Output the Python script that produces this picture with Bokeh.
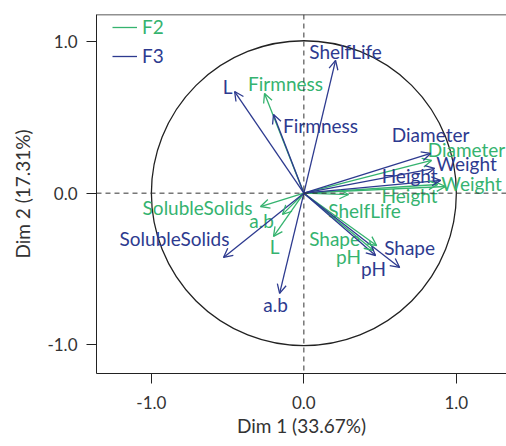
from bokeh.plotting import figure
from bokeh.models import (ColumnDataSource, Arrow, OpenHead, Span, Legend, LegendItem,
                          FixedTicker, Range1d)
from bokeh.core.properties import value
from bokeh.embed import file_html
from bokeh.resources import INLINE

# ---- data ----
variables = ["ShelfLife", "L", "Firmness", "Diameter", "Weight", "Height",
             "SolubleSolids", "a.b", "Shape", "pH"]
f3_dim1 = [0.208, -0.454, -0.199, 0.831, 0.857, 0.897, -0.527, -0.159, 0.628, 0.470]
f3_dim2 = [0.875, 0.670, 0.519, 0.262, 0.163, 0.084, -0.424, -0.661, -0.490, -0.411]
f2_dim1 = [0.293, -0.199, -0.258, 0.837, 0.929, 0.877, -0.284, -0.140, 0.477, 0.457]
f2_dim2 = [-0.009, -0.285, 0.657, 0.216, 0.044, 0.057, -0.088, -0.140, -0.345, -0.378]

tick_values = [-1.0, 0.0, 1.0]
tick_labels = ["-1.0", "0.0", "1.0"]
x_title = "Dim 1 (33.67%)"
y_title = "Dim 2 (17.31%)"
circle_radius = 1.0

# ---- layout / style ----
F2_COLOR = "#35b36f"
F3_COLOR = "#2d3a8f"
TEXT_COLOR = "#333333"
FONT = "Lato"
FS = "19px"
TICK_FS = "17px"

# label offsets in screen pixels (dx, dy; dy positive = down)
f3_dx = [10, -7, 47, 0, 32, -31, -49, -4, 10, -2]
f3_dy = [-9, -5, 11, -19, -5, -5, -19, 11, -20, 13]
f2_dx = [16, 1, 21, 35, 26, -28, -63, -21, -42, -25]
f2_dy = [16, 10, -10, -11, -3, 11, 1, 6, -7, 6]

x_start, x_end = -1.36, 1.329
y_start, y_end = -1.189, 1.178

p = figure(width=506, height=446, output_backend="svg", toolbar_location=None,
           x_range=Range1d(x_start, x_end), y_range=Range1d(y_start, y_end),
           min_border_left=96, min_border_right=0, min_border_top=14, min_border_bottom=73)
p.grid.visible = False
p.outline_line_color = None
p.background_fill_color = "white"

for ax in (p.xaxis[0], p.yaxis[0]):
    ax.ticker = FixedTicker(ticks=tick_values)
    ax.major_label_overrides = {v: l for v, l in zip(tick_values, tick_labels)}
    ax.minor_tick_line_color = None
    ax.major_tick_in = 0
    ax.major_tick_out = 10
    ax.axis_line_color = "#222222"
    ax.major_tick_line_color = "#222222"
    ax.major_label_text_font = FONT
    ax.major_label_text_font_size = TICK_FS
    ax.major_label_text_color = TEXT_COLOR
    ax.axis_label_text_font = FONT
    ax.axis_label_text_font_size = FS
    ax.axis_label_text_font_style = "normal"
    ax.axis_label_text_color = TEXT_COLOR

p.xaxis.axis_label = x_title
p.yaxis.axis_label = y_title
p.xaxis.major_label_standoff = 12
p.xaxis.axis_label_standoff = 2
p.yaxis.major_label_standoff = 9
p.yaxis.axis_label_standoff = 10

# top border of the frame
p.add_layout(Span(location=y_end, dimension="width", line_color="#222222", line_width=1.5))

# dashed reference lines
p.add_layout(Span(location=0, dimension="width", line_color="#333333", line_width=1, line_dash="5 4"))
p.add_layout(Span(location=0, dimension="height", line_color="#333333", line_width=1, line_dash="5 4"))

# correlation circle
p.circle(x=[0], y=[0], radius=circle_radius, fill_color=None, line_color="#222222", line_width=1.3)

legends = []
for name, xs, ys, dx, dy, col in (("F2", f2_dim1, f2_dim2, f2_dx, f2_dy, F2_COLOR),
                                  ("F3", f3_dim1, f3_dim2, f3_dx, f3_dy, F3_COLOR)):
    src = ColumnDataSource(dict(x0=[0.0] * len(xs), y0=[0.0] * len(ys), x=xs, y=ys,
                                name=variables, dx=dx, dy=dy))
    seg = p.segment(x0="x0", y0="y0", x1="x", y1="y", source=src, line_color=col, line_width=1.3)
    p.add_layout(Arrow(end=OpenHead(line_color=col, line_width=1.3, size=9),
                       x_start="x0", y_start="y0", x_end="x", y_end="y",
                       source=src, line_alpha=0))
    p.text(x="x", y="y", text="name", x_offset="dx", y_offset="dy", source=src,
           text_font=value(FONT), text_font_size=FS, text_color=col,
           text_align="center", text_baseline="middle")
    legends.append((name, seg, col))

positions = [(16, 335), (16, 306)]
for (name, seg, col), loc in zip(legends, positions):
    lg = Legend(items=[LegendItem(label=name, renderers=[seg])], location=loc,
                glyph_width=25, glyph_height=20, label_height=20, label_standoff=5,
                padding=0, margin=0, spacing=0, border_line_color=None,
                background_fill_alpha=0, label_text_font=FONT, label_text_font_size=FS,
                label_text_color=col)
    p.add_layout(lg)

open("out.html", "w").write(file_html(p, INLINE))
